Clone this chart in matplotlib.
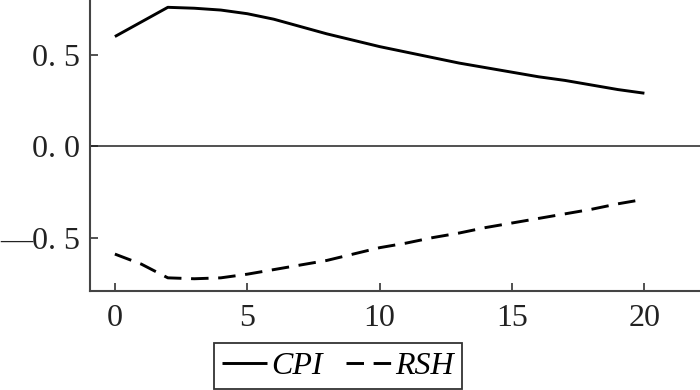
import matplotlib
matplotlib.use("Agg")
import matplotlib.pyplot as plt

periods = list(range(21))
cpi = [0.60, 0.68, 0.76, 0.755, 0.745, 0.725, 0.695, 0.655, 0.615, 0.58, 0.545,
       0.515, 0.485, 0.455, 0.43, 0.405, 0.38, 0.36, 0.335, 0.31, 0.29]
rsh = [-0.59, -0.645, -0.72, -0.725, -0.72, -0.70, -0.675, -0.65, -0.625, -0.59, -0.555,
       -0.53, -0.50, -0.475, -0.445, -0.42, -0.395, -0.37, -0.345, -0.315, -0.29]
xticks = [0, 5, 10, 15, 20]
xtick_labels = ["0", "5", "10", "15", "20"]
yticks = [-0.5, 0.0, 0.5]
ytick_labels = ["—0. 5", "0. 0", "0. 5"]
series_names = ["CPI", "RSH"]

plt.rcParams["font.family"] = ["Liberation Serif", "DejaVu Serif"]

fig = plt.figure(figsize=(7, 3.9), dpi=100)
ax = fig.add_axes([90/700, 99/390, 610/700, 291/390])

l1, = ax.plot(periods, cpi, color="black", lw=2.1, solid_capstyle="butt")
l2, = ax.plot(periods, rsh, color="black", lw=2.1, linestyle=(0, (6, 3.3)))
ax.axhline(0, color="#222222", lw=1.1)

ax.set_xlim(-0.94, 22.1)
ax.set_ylim(-0.792, 0.80)
ax.set_xticks(xticks)
ax.set_xticklabels(xtick_labels)
ax.set_yticks(yticks)
ax.set_yticklabels(ytick_labels)
ax.tick_params(direction="in", length=6, width=1.2, labelsize=23, colors="#333333",
               labelcolor="#222222")
ax.tick_params(axis="y", pad=7)
ax.tick_params(axis="x", pad=9)
for s in ["top", "right"]:
    ax.spines[s].set_visible(False)
for s in ["left", "bottom"]:
    ax.spines[s].set_linewidth(1.5)
    ax.spines[s].set_color("#444444")

leg = fig.legend([l1, l2], series_names, loc="center",
                 bbox_to_anchor=(338/700, 1 - 366/390), ncol=2, frameon=True,
                 fancybox=False, edgecolor="black", handlelength=1.4,
                 handletextpad=0.12, columnspacing=0.75, borderpad=0.25,
                 prop={"style": "italic", "size": 23})
leg.get_frame().set_linewidth(1.3)

fig.savefig("out.png", dpi=100)
